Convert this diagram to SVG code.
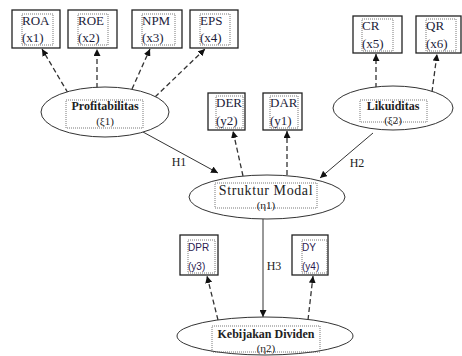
<svg xmlns="http://www.w3.org/2000/svg" width="462" height="356" viewBox="0 0 462 356">
<style>
.box{fill:#fff;stroke:#222;stroke-width:1.3}
.in{fill:none;stroke:#555;stroke-width:0.8;stroke-dasharray:1,1}
.ell{fill:#fff;stroke:#333;stroke-width:1}
.t{font-family:"Liberation Serif",serif;font-size:13px;fill:#1c1c3a}
.s{font-family:"Liberation Sans",sans-serif;font-size:10px;fill:#2a2050}
.b{font-family:"Liberation Serif",serif;font-size:12px;font-weight:bold;fill:#222;text-anchor:middle}
.n{font-family:"Liberation Serif",serif;font-size:11px;fill:#222;text-anchor:middle}
.sm{font-family:"Liberation Serif",serif;font-size:14px;letter-spacing:0.6px;fill:#222;text-anchor:middle}
.h{font-family:"Liberation Serif",serif;font-size:12px;fill:#222;text-anchor:middle}
.d{stroke:#333;stroke-width:1.3;stroke-dasharray:5,3;fill:none;marker-end:url(#ah)}
.l{stroke:#333;stroke-width:1;fill:none;marker-end:url(#ah)}
</style>
<defs>
<marker id="ah" viewBox="0 0 10 10" refX="10" refY="5" markerWidth="7" markerHeight="7" markerUnits="userSpaceOnUse" orient="auto">
<path d="M0,0 L10,5 L0,10 z" fill="#111"/>
</marker>
</defs>
<g id="connectors">
<line class="d" x1="68" y1="93" x2="42" y2="49"/>
<line class="d" x1="97" y1="88" x2="97" y2="49"/>
<line class="d" x1="132" y1="89" x2="150" y2="49"/>
<line class="d" x1="155" y1="97" x2="205" y2="49"/>
<line class="d" x1="376" y1="88" x2="376" y2="54"/>
<line class="d" x1="432" y1="92" x2="437" y2="54"/>
<line class="d" x1="243" y1="176" x2="233" y2="131"/>
<line class="d" x1="287" y1="175" x2="287" y2="131"/>
<line class="d" x1="218" y1="320" x2="207" y2="276"/>
<line class="d" x1="308" y1="320" x2="313" y2="276"/>
<line class="l" x1="143" y1="132" x2="218" y2="173"/>
<line class="l" x1="373" y1="133" x2="320" y2="178"/>
<line class="l" x1="263" y1="219" x2="263" y2="317"/>
<text class="h" x="179" y="166">H1</text>
<text class="h" x="357" y="167">H2</text>
<text class="h" x="274" y="270">H3</text>
</g>
<g id="roa"><rect class="box" x="12" y="10" width="48" height="38"/><rect class="in" x="22" y="14" width="31" height="31"/><text class="t" x="22" y="25">ROA</text><text class="t" x="22" y="42">(x1)</text></g>
<g id="roe"><rect class="box" x="68" y="10" width="49" height="38"/><rect class="in" x="78" y="14" width="30" height="31"/><text class="t" x="78" y="25">ROE</text><text class="t" x="78" y="42">(x2)</text></g>
<g id="npm"><rect class="box" x="132" y="10" width="50" height="38"/><rect class="in" x="142" y="14" width="33" height="31"/><text class="t" x="142" y="25">NPM</text><text class="t" x="142" y="42">(x3)</text></g>
<g id="eps"><rect class="box" x="190" y="10" width="48" height="38"/><rect class="in" x="200" y="14" width="30" height="31"/><text class="t" x="200" y="25">EPS</text><text class="t" x="200" y="42">(x4)</text></g>
<g id="cr"><rect class="box" x="353" y="16" width="49" height="37"/><rect class="in" x="362" y="19" width="31" height="32"/><text class="t" x="362" y="30">CR</text><text class="t" x="362" y="48">(x5)</text></g>
<g id="qr"><rect class="box" x="416" y="16" width="45" height="37"/><rect class="in" x="426" y="19" width="30" height="32"/><text class="t" x="426" y="30">QR</text><text class="t" x="426" y="48">(x6)</text></g>
<g id="der"><rect class="box" x="208" y="93" width="37" height="37"/><rect class="in" x="216" y="96" width="27" height="32"/><text class="t" x="216" y="107">DER</text><text class="t" x="216" y="125">(y2)</text></g>
<g id="dar"><rect class="box" x="263" y="93" width="39" height="37"/><rect class="in" x="270" y="96" width="28" height="32"/><text class="t" x="270" y="107">DAR</text><text class="t" x="270" y="125">(y1)</text></g>
<g id="dpr"><rect class="box" x="180" y="235" width="38" height="40"/><rect class="in" x="188" y="240" width="27" height="33"/><text class="s" x="188" y="251">DPR</text><text class="s" x="188" y="270">(y3)</text></g>
<g id="dy"><rect class="box" x="292" y="235" width="36" height="40"/><rect class="in" x="302" y="240" width="25" height="33"/><text class="s" x="302" y="251">DY</text><text class="s" x="302" y="270">(y4)</text></g>
<g id="profitabilitas"><ellipse class="ell" cx="105" cy="112" rx="64" ry="25"/><rect class="in" x="66" y="100" width="77" height="28"/><text class="b" x="105" y="110">Profitabilitas</text><text class="n" x="105" y="125">(ξ1)</text></g>
<g id="likuiditas"><ellipse class="ell" cx="393" cy="108" rx="60" ry="22"/><rect class="in" x="360" y="100" width="67" height="22"/><text class="b" x="393" y="110">Likuiditas</text><text class="n" x="393" y="124">(ξ2)</text></g>
<g id="struktur"><ellipse class="ell" cx="267" cy="197" rx="78" ry="22"/><rect class="in" x="215" y="183" width="102" height="25"/><text class="sm" x="266" y="195">Struktur Modal</text><text class="n" x="266" y="209">(η1)</text></g>
<g id="kebijakan"><ellipse class="ell" cx="265" cy="336" rx="88" ry="19"/><rect class="in" x="212" y="326" width="108" height="26"/><text class="b" x="266" y="338">Kebijakan Dividen</text><text class="n" x="266" y="352">(η2)</text></g>
</svg>
